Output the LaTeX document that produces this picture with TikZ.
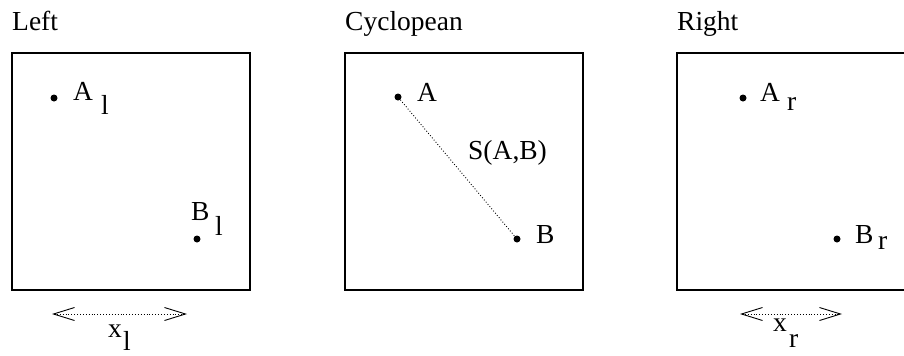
\documentclass[tikz,border=0pt]{standalone}
\usepackage{fontspec}
\setmainfont{Liberation Serif}
\usetikzlibrary{arrows.meta}
\begin{document}
\begin{tikzpicture}[x=1bp,y=-1bp,
  frame/.style={draw=black,line width=1.2bp},
  dot/.style={circle,fill=black,inner sep=0pt,minimum size=7bp},
  lbl/.style={anchor=base west,inner sep=0pt,font=\rmfamily\fontsize{27.5bp}{31bp}\selectfont},
  dimarrow/.style={dotted,line width=0.9bp,{Straight Barb[length=21bp,width=13bp,line width=0.9bp]}-{Straight Barb[length=21bp,width=13bp,line width=0.9bp]}},
  link/.style={dotted,line width=0.9bp}]
\useasboundingbox (0,0) rectangle (904,355);
% titles
\node[lbl] (tL) at (12,30) {Left};
\node[lbl] (tC) at (345,30) {Cyclopean};
\node[lbl] (tR) at (677,30) {Right};
% frames
\draw[frame] (12,53) rectangle (250,290);
\draw[frame] (345,53) rectangle (583,290);
\draw[frame] (677,53) rectangle (915,290);
% left
\node[dot] (Al) at (54,98) {};
\node[lbl] (Altx) at (73,100) {A};
\node[lbl] (Alsub) at (101,114) {l};
\node[dot] (Bl) at (197,239) {};
\node[lbl] (Bltx) at (191,220) {B};
\node[lbl] (Blsub) at (215,235) {l};
\coordinate (xl1) at (52,314);
\coordinate (xl2) at (187,314);
\draw[dimarrow] (xl1) -- (xl2);
\node[lbl] (xltx) at (108,337) {x};
\node[lbl] (xlsub) at (123,350) {l};
% middle
\node[dot] (Am) at (398,97) {};
\node[lbl] (Amtx) at (417,101) {A};
\node[dot] (Bm) at (517,239) {};
\node[lbl] (Bmtx) at (536,243) {B};
\draw[link] (Am) -- (Bm);
\node[lbl] (S) at (468,159) {S(A,B)};
% right
\node[dot] (Ar) at (743,98) {};
\node[lbl] (Artx) at (760,101) {A};
\node[lbl] (Arsub) at (787,110) {r};
\node[dot] (Br) at (837,239) {};
\node[lbl] (Brtx) at (855,243) {B};
\node[lbl] (Brsub) at (878,249) {r};
\coordinate (xr1) at (740,314);
\coordinate (xr2) at (842,314);
\draw[dimarrow] (xr1) -- (xr2);
\node[lbl] (xrtx) at (773,331) {x};
\node[lbl] (xrsub) at (789,347) {r};
\end{tikzpicture}
\end{document}
